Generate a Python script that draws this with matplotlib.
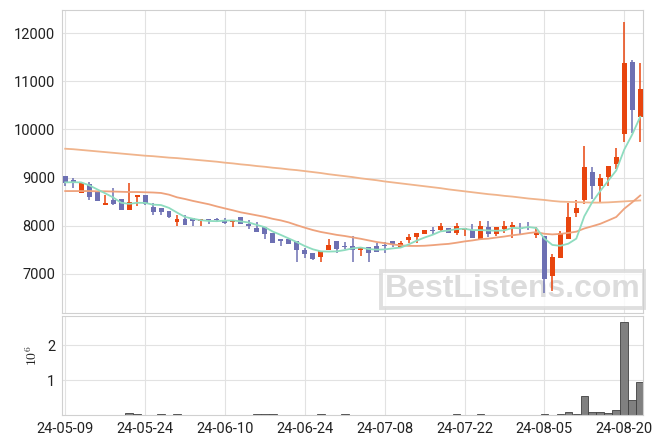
import numpy as np
import matplotlib.pyplot as plt

plt.rcParams['font.family'] = ['Roboto', 'DejaVu Sans']
plt.rcParams['mathtext.fontset'] = 'cm'

# tick labels, every 10 trading days
tick_pos = [0, 10, 20, 30, 40, 50, 60, 70]
tick_labels = ['24-05-09', '24-05-24', '24-06-10', '24-06-24',
               '24-07-08', '24-07-22', '24-08-05', '24-08-20']

opens = [9030, 8940, 8690, 8860, 8710, 8440, 8530, 8555, 8335, 8600,
         8640, 8390, 8370, 8300, 8070, 8145, 8165, 8090, 8130, 8140,
         8090, 8070, 8185, 8035, 7950, 7970, 7845, 7720, 7720, 7680,
         7495, 7430, 7355, 7500, 7680, 7575, 7570, 7500, 7555, 7580,
         7600, 7690, 7550, 7700, 7760, 7835, 7910, 7910, 7950, 7855,
         7910, 7920, 7725, 7965, 7830, 7930, 7975, 7960, 7980, 7815,
         7785, 6960, 7320, 7715, 8260, 8535, 9110, 8830, 9020, 9285,
         9905, 11410, 10265]
highs = [9030, 8990, 8890, 8900, 8710, 8640, 8790, 8560, 8880, 8640,
         8640, 8480, 8370, 8300, 8220, 8220, 8165, 8145, 8145, 8165,
         8155, 8110, 8187, 8120, 8070, 7970, 7845, 7720, 7720, 7680,
         7530, 7432, 7475, 7715, 7680, 7670, 7785, 7557, 7557, 7634,
         7670, 7690, 7675, 7830, 7850, 7910, 7980, 8050, 7952, 8050,
         7955, 8035, 8105, 8100, 7966, 8105, 8085, 8060, 8085, 7980,
         7785, 7405, 7890, 8465, 8535, 9655, 9225, 9070, 9250, 9620,
         12240, 11445, 11375]
lows = [8830, 8780, 8690, 8540, 8520, 8440, 8440, 8320, 8330, 8410,
        8440, 8220, 8220, 8150, 8000, 8005, 8000, 8000, 8030, 8090,
        8035, 7965, 8035, 7925, 7870, 7715, 7650, 7580, 7625, 7245,
        7335, 7285, 7245, 7500, 7425, 7510, 7250, 7375, 7245, 7460,
        7425, 7565, 7550, 7635, 7645, 7835, 7835, 7875, 7855, 7805,
        7795, 7745, 7725, 7770, 7785, 7840, 7745, 7820, 7910, 7740,
        6595, 6645, 7320, 7715, 8185, 8445, 8565, 8465, 8830, 9180,
        9745, 9920, 9735]
closes = [8880, 8890, 8890, 8600, 8520, 8470, 8460, 8335, 8485, 8630,
          8460, 8280, 8290, 8190, 8145, 8005, 8090, 8140, 8110, 8125,
          8065, 8110, 8035, 7995, 7875, 7830, 7650, 7690, 7625, 7500,
          7420, 7315, 7475, 7600, 7520, 7555, 7500, 7555, 7440, 7460,
          7580, 7605, 7640, 7765, 7850, 7910, 7890, 7995, 7855, 7995,
          7950, 7745, 7995, 7820, 7965, 7985, 8015, 7940, 7960, 7850,
          6900, 7350, 7850, 8180, 8375, 9225, 8830, 9000, 9250, 9435,
          11390, 10405, 10840]
volumes = [5000, 5000, 5000, 5000, 5000, 5000, 5000, 5000, 60000, 30000,
           5000, 5000, 20000, 5000, 20000, 5000, 5000, 5000, 5000, 5000,
           5000, 5000, 5000, 5000, 20000, 20000, 20000, 5000, 5000, 5000,
           5000, 5000, 15000, 5000, 5000, 15000, 5000, 5000, 5000, 5000,
           5000, 5000, 5000, 5000, 5000, 5000, 5000, 5000, 5000, 15000,
           5000, 5000, 15000, 5000, 5000, 5000, 5000, 5000, 5000, 5000,
           20000, 5000, 20000, 90000, 25000, 550000, 90000, 90000, 65000, 150000,
           2650000, 420000, 930000]

ma5 = [8900, 8905, 8900, 8840, 8756, 8674, 8588, 8477, 8454, 8476,
       8474, 8438, 8429, 8370, 8273, 8182, 8144, 8114, 8098, 8094,
       8106, 8110, 8089, 8066, 8016, 7969, 7877, 7808, 7734, 7659,
       7577, 7510, 7467, 7462, 7466, 7493, 7530, 7546, 7514, 7502,
       7507, 7528, 7545, 7610, 7688, 7754, 7811, 7882, 7900, 7929,
       7937, 7908, 7908, 7901, 7895, 7902, 7956, 7945, 7973, 7950,
       7733, 7600, 7582, 7626, 7731, 8196, 8492, 8722, 8936, 9148,
       9581, 9896, 10264]
ma20 = [8720, 8720, 8720, 8720, 8715, 8715, 8710, 8705, 8700, 8700,
        8695, 8690, 8680, 8645, 8590, 8555, 8515, 8480, 8445, 8400,
        8359, 8320, 8277, 8247, 8215, 8183, 8142, 8110, 8067, 8011,
        7959, 7910, 7870, 7840, 7809, 7786, 7757, 7728, 7694, 7661,
        7637, 7611, 7592, 7580, 7579, 7583, 7595, 7610, 7622, 7646,
        7673, 7694, 7720, 7731, 7754, 7775, 7801, 7820, 7846, 7866,
        7832, 7819, 7829, 7850, 7876, 7942, 7989, 8039, 8109, 8181,
        8353, 8486, 8628]
ma120 = [9600, 9590, 9575, 9560, 9545, 9530, 9515, 9500, 9485, 9470,
         9455, 9445, 9430, 9415, 9405, 9390, 9375, 9360, 9345, 9330,
         9310, 9295, 9275, 9260, 9240, 9225, 9205, 9190, 9170, 9155,
         9135, 9115, 9095, 9070, 9050, 9030, 9010, 8985, 8965, 8945,
         8920, 8900, 8880, 8860, 8840, 8820, 8800, 8780, 8755, 8735,
         8715, 8695, 8675, 8655, 8640, 8620, 8605, 8585, 8565, 8550,
         8535, 8515, 8500, 8495, 8490, 8485, 8480, 8480, 8485, 8495,
         8505, 8515, 8525]

o = np.array(opens)
h = np.array(highs)
l = np.array(lows)
c = np.array(closes)
x = np.arange(len(c))
up = c >= o
colors = np.where(up, '#e8450e', '#6d70b3')

W, H = 663, 444
fig = plt.figure(figsize=(W / 100, H / 100), dpi=100)
ax = fig.add_axes([62 / W, 1 - 313 / H, 581 / W, 303 / H])
ax2 = fig.add_axes([62 / W, 1 - 415 / H, 581 / W, 99 / H], sharex=ax)

for a in (ax, ax2):
    for s in a.spines.values():
        s.set_color('#d0d0d0')
    a.grid(True, color='#e2e2e2', lw=0.8)
    a.set_axisbelow(True)
    a.tick_params(length=0, labelsize=10.5, colors='#222222', pad=5)

# candles
ax.vlines(x, l, h, color=colors, lw=1.1, zorder=3)
ax.bar(x, np.maximum(np.abs(c - o), 15), bottom=np.minimum(o, c), width=0.62,
       color=colors, zorder=3)

# moving averages
ax.plot(x, ma120, color='#f0b48c', lw=1.3, zorder=4)
ax.plot(x, ma20, color='#eea27c', lw=1.3, zorder=4)
ax.plot(x, ma5, color='#8edcbf', lw=1.3, zorder=4)

ax.text(0.775, 0.078, 'BestListens.com', transform=ax.transAxes,
        ha='center', va='center', fontsize=23, fontweight='bold',
        family=['Liberation Sans'], color='#dcdcdc', zorder=2,
        bbox=dict(boxstyle='square,pad=0.12', fc='white', ec='#d8d8d8',
                  lw=2.8, alpha=0.8))

ax.set_ylim(6185, 12484)
ax.set_yticks([7000, 8000, 9000, 10000, 11000, 12000])
ax.set_xlim(-0.4, 72.35)
ax.set_xticks(tick_pos)
ax.tick_params(axis='x', labelbottom=False)

ax2.bar(x, volumes, width=0.95, color='#808080', edgecolor='#404040', lw=0.6)
ax2.set_ylim(0, 2.83e6)
ax2.set_yticks([1e6, 2e6])
ax2.set_yticklabels(['1', '2'])
ax2.set_xticks(tick_pos)
ax2.set_xticklabels(tick_labels)
fig.text(32 / W, 1 - 356 / H, r'$10^{6}$', rotation=90, ha='center',
         va='center', fontsize=10, color='#222222')

fig.savefig('out.png', dpi=100)
